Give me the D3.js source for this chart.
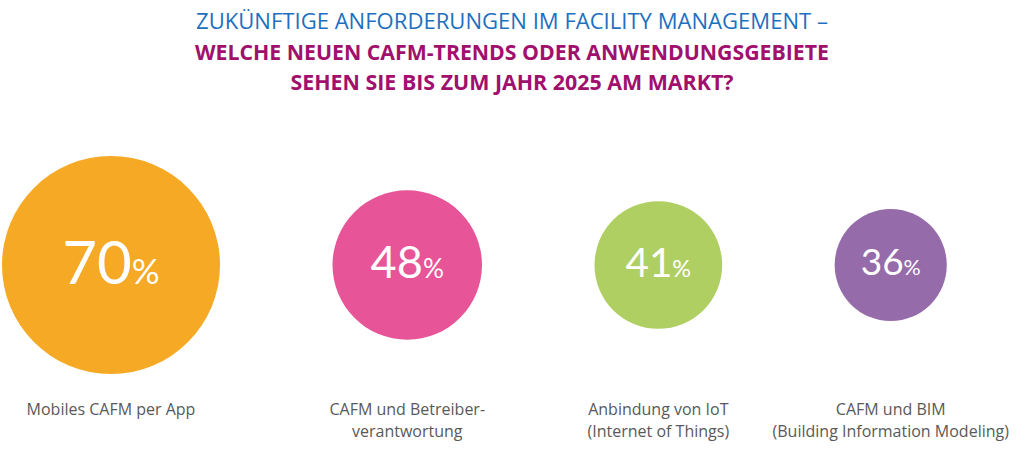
<!DOCTYPE html>
<meta charset="utf-8">
<html lang="de">
<head>
    <title>CAFM-Trends</title>
    <script src="https://d3js.org/d3.v7.min.js"></script>
</head>
<style>
    body { margin: 0; background: #fff; }
    .title { text-anchor: middle; font-family: "Open Sans", sans-serif; font-size: 21px; }
    .num { text-anchor: middle; font-family: Lato, "Open Sans", sans-serif; font-weight: 400; fill: #fff; }
    .lbl { text-anchor: middle; font-family: "Open Sans", sans-serif; font-size: 16px; fill: #595959; }
</style>
<body>
<script>
    var titleLines = ["ZUKÜNFTIGE ANFORDERUNGEN IM FACILITY MANAGEMENT –",
        "WELCHE NEUEN CAFM-TRENDS ODER ANWENDUNGSGEBIETE",
        "SEHEN SIE BIS ZUM JAHR 2025 AM MARKT?"];
    var categories = [["Mobiles CAFM per App"],
        ["CAFM und Betreiber-", "verantwortung"],
        ["Anbindung von IoT", "(Internet of Things)"],
        ["CAFM und BIM", "(Building Information Modeling)"]];
    var values = [70, 48, 41, 36];
    var colors = ["#F6A925", "#E75497", "#B0CF63", "#966BAA"];

    var svg = d3.select("body").append("svg").attr("width", 1024).attr("height", 455);

    // title: first line blue, the question in magenta bold
    var tStyle = [
        {y: 29, w: 632, fill: "#1E6FC0", weight: 400, size: 22},
        {y: 60, w: 634, fill: "#A0106C", weight: 700, size: 21},
        {y: 90, w: 443, fill: "#A0106C", weight: 700, size: 21}
    ];
    svg.selectAll(".title").data(titleLines).enter().append("text")
        .attr("class", "title")
        .attr("x", 512)
        .attr("y", (d, i) => tStyle[i].y)
        .attr("textLength", (d, i) => tStyle[i].w)
        .attr("lengthAdjust", "spacingAndGlyphs")
        .style("fill", (d, i) => tStyle[i].fill)
        .style("font-weight", (d, i) => tStyle[i].weight)
        .style("font-size", (d, i) => tStyle[i].size + "px")
        .text(d => d);

    // radius grows linearly with the share
    var r = d3.scaleLinear().domain([0, 70]).range([0, 109]);
    var fs = d3.scaleLinear().domain([36, 70]).range([37, 60]);
    var gap = 112.5, cy = 265;

    var cx = [], x = 2;
    values.forEach(function (v) {
        cx.push(x + r(v));
        x += 2 * r(v) + gap;
    });

    var g = svg.selectAll(".item").data(values).enter().append("g")
        .attr("class", "item")
        .attr("transform", (d, i) => "translate(" + cx[i] + "," + cy + ")");

    g.append("circle")
        .attr("r", d => r(d))
        .style("fill", (d, i) => colors[i]);

    var t = g.append("text").attr("class", "num")
        .attr("y", d => fs(d) * 0.72 / 2 - 3)
        .style("font-size", d => fs(d) + "px");
    t.append("tspan").text(d => d);
    t.append("tspan").style("font-size", d => (fs(d) * 0.58) + "px").text("%");

    g.append("text").attr("class", "lbl")
        .attr("y", 415 - cy)
        .selectAll("tspan").data((d, i) => categories[i]).enter().append("tspan")
        .attr("x", 0)
        .attr("dy", (d, j) => j ? 22 : 0)
        .text(d => d);
</script>
</body>
</html>
